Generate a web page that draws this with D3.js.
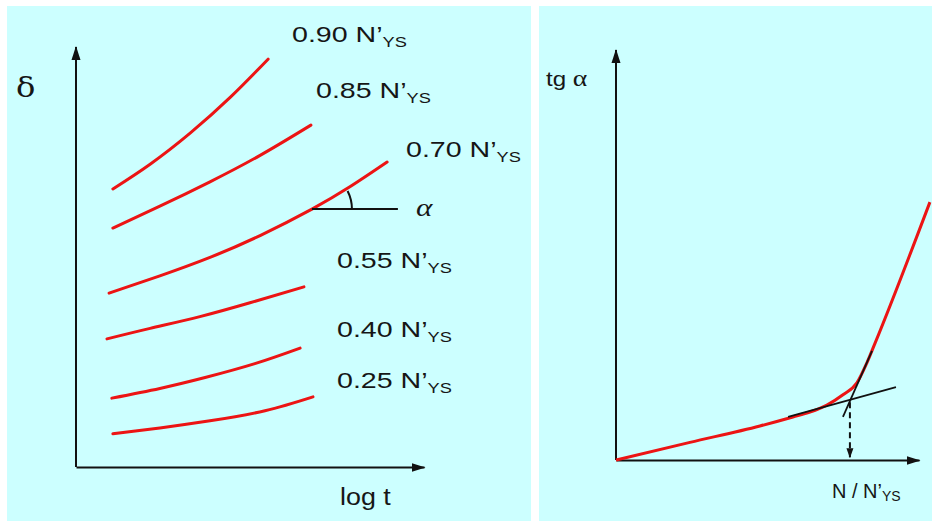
<!DOCTYPE html>
<html>
<head>
<meta charset="utf-8">
<script src="https://cdn.jsdelivr.net/npm/d3@7"></script>
<style>
  body { margin: 0; background: #fff; }
  svg { display: block; }
  .lbl { font-family: "Liberation Sans", Arial, sans-serif; fill: #161616; }
  .greek { font-family: "Liberation Serif", "DejaVu Serif", serif; fill: #161616; }
  .delta { font-family: "DejaVu Serif", serif; fill: #161616; }
</style>
</head>
<body>
<div class="chart"></div>
<script>
// creep curves delta vs log t, one per load level (0-10 units)
const levels = ['0.90', '0.85', '0.70', '0.55', '0.40', '0.25']
const creepT = [
  [1.06, 2.13, 3.28, 4.43, 5.52],
  [1.06, 2.41, 3.85, 5.29, 6.75],
  [0.95, 2.41, 3.85, 5.29, 6.78, 7.87, 8.94],
  [0.89, 2.13, 3.56, 5.00, 6.55],
  [1.03, 2.41, 3.71, 5.14, 6.44],
  [1.06, 2.41, 3.85, 5.43, 6.81]
]
const creepDelta = [
  [6.62, 7.21, 7.95, 8.80, 9.71],
  [5.69, 6.21, 6.79, 7.42, 8.14],
  [4.14, 4.55, 4.99, 5.51, 6.14, 6.67, 7.26],
  [3.05, 3.30, 3.58, 3.91, 4.29],
  [1.64, 1.87, 2.13, 2.46, 2.83],
  [0.79, 0.93, 1.10, 1.34, 1.67]
]
// where the slope alpha is taken (on the 0.70 curve)
const alphaCurve = 2
const alphaPoint = 4
const alphaLineEnd = 9.25
const alphaDeg = 27

// tg alpha vs N / N'ys
const ratioN = [0, 2.44, 4.75, 5.84, 6.40, 6.96, 7.49, 7.95, 8.28, 8.55, 10.36]
const tgAlpha = [0, 0.43, 0.83, 1.05, 1.17, 1.34, 1.59, 1.88, 2.37, 2.85, 6.29]
const tangentLow = [[5.68, 1.05], [9.24, 1.78]]
const tangentHigh = [[7.49, 1.05], [8.45, 2.66]]
const yieldRatio = 7.72
const dropFrom = 1.41
const dropTo = 0.07

const width = 932
const height = 524

const svg = d3.select('.chart')
  .append('svg')
  .attr('width', width)
  .attr('height', height)

const defs = svg.append('defs')
defs.append('marker')
  .attr('id', 'arrow')
  .attr('markerUnits', 'userSpaceOnUse')
  .attr('markerWidth', 14)
  .attr('markerHeight', 10)
  .attr('refX', 13)
  .attr('refY', 5)
  .attr('orient', 'auto')
  .append('path')
  .attr('d', 'M0,0.5L14,5L0,9.5Z')
  .attr('fill', '#111')
defs.append('marker')
  .attr('id', 'arrowSmall')
  .attr('markerUnits', 'userSpaceOnUse')
  .attr('markerWidth', 10)
  .attr('markerHeight', 8)
  .attr('refX', 9)
  .attr('refY', 4)
  .attr('orient', 'auto')
  .append('path')
  .attr('d', 'M0,0.5L10,4L0,7.5Z')
  .attr('fill', '#111')

// panels
svg.append('rect').attr('x', 7).attr('y', 6).attr('width', 524).attr('height', 515).attr('fill', '#ccffff')
svg.append('rect').attr('x', 539).attr('y', 6).attr('width', 393).attr('height', 515).attr('fill', '#ccffff')

// text helper: the picture is stretched a bit horizontally
function label(x, y, parts, stretch) {
  const g = svg.append('g')
    .attr('transform', `translate(${x}, ${y}) scale(${stretch || 1.3}, 1)`)
  const t = g.append('text')
  parts.forEach(p => {
    t.append('tspan')
      .attr('class', p.cls || 'lbl')
      .attr('font-size', p.size)
      .attr('font-style', p.style || null)
      .attr('dy', p.dy || 0)
      .text(p.text)
  })
  return t
}

function makeCreepChart() {
  const x = d3.scaleLinear().domain([0, 10]).range([76, 424])
  const y = d3.scaleLinear().domain([0, 10]).range([467, 47])

  svg.append('g')
    .attr('transform', `translate(0, ${y(0)})`)
    .call(d3.axisBottom(x).tickValues([]).tickSizeOuter(0))
    .select('.domain')
    .attr('stroke', '#111')
    .attr('stroke-width', 2)
    .attr('marker-end', 'url(#arrow)')

  svg.append('g')
    .attr('transform', `translate(${x(0)}, 0)`)
    .call(d3.axisLeft(y).tickValues([]).tickSizeOuter(0))
    .select('.domain')
    .attr('stroke', '#111')
    .attr('stroke-width', 2)
    .attr('d', `M0,${y(0)}V${y(10)}`)
    .attr('marker-end', 'url(#arrow)')

  const line = d3.line()
    .x(d => x(d[0]))
    .y(d => y(d[1]))
    .curve(d3.curveNatural)

  const series = levels.map((lv, i) => creepT[i].map((t, j) => [t, creepDelta[i][j]]))

  svg.append('g')
    .selectAll('path')
    .data(series)
    .join('path')
    .attr('d', line)
    .attr('fill', 'none')
    .attr('stroke', '#ec1414')
    .attr('stroke-width', 3)
    .attr('stroke-linecap', 'round')

  // slope alpha at the 0.70 curve
  const px = x(creepT[alphaCurve][alphaPoint])
  const py = y(creepDelta[alphaCurve][alphaPoint])
  svg.append('line')
    .attr('x1', px).attr('y1', py)
    .attr('x2', x(alphaLineEnd)).attr('y2', py)
    .attr('stroke', '#111')
    .attr('stroke-width', 2)
  const r = 40
  const a = alphaDeg * Math.PI / 180
  const p = d3.path()
  p.moveTo(px + r, py)
  p.arc(px, py, r, 0, -a, true)
  svg.append('path')
    .attr('d', p.toString())
    .attr('fill', 'none')
    .attr('stroke', '#111')
    .attr('stroke-width', 2)

  // labels
  const labelPos = [[292, 42], [316, 98], [406, 157], [337, 268], [337, 337], [337, 388]]
  levels.forEach((lv, i) => {
    label(labelPos[i][0], labelPos[i][1], [
      { text: `${lv} N’`, size: 22 },
      { text: 'YS', size: 14, dy: 5 }
    ])
  })
  label(416, 216, [{ text: 'α', size: 26, cls: 'greek', style: 'italic' }], 1.2)
  label(16, 97, [{ text: 'δ', size: 28, cls: 'delta' }], 1.15)
  label(340, 505, [{ text: 'log t', size: 24 }], 1.12)
}

function makeSlopeChart() {
  const x = d3.scaleLinear().domain([0, 10]).range([616, 919])
  const y = d3.scaleLinear().domain([0, 10]).range([460, 50])

  svg.append('g')
    .attr('transform', `translate(0, ${y(0)})`)
    .call(d3.axisBottom(x).tickValues([]).tickSizeOuter(0))
    .select('.domain')
    .attr('stroke', '#111')
    .attr('stroke-width', 2)
    .attr('marker-end', 'url(#arrow)')

  svg.append('g')
    .attr('transform', `translate(${x(0)}, 0)`)
    .call(d3.axisLeft(y).tickValues([]).tickSizeOuter(0))
    .select('.domain')
    .attr('stroke', '#111')
    .attr('stroke-width', 2)
    .attr('d', `M0,${y(0)}V${y(10)}`)
    .attr('marker-end', 'url(#arrow)')

  const line = d3.line()
    .x(d => x(d[0]))
    .y(d => y(d[1]))
    .curve(d3.curveMonotoneX)

  svg.append('path')
    .datum(ratioN.map((n, i) => [n, tgAlpha[i]]))
    .attr('d', line)
    .attr('fill', 'none')
    .attr('stroke', '#ec1414')
    .attr('stroke-width', 3)

  svg.append('g')
    .selectAll('line')
    .data([tangentLow, tangentHigh])
    .join('line')
    .attr('x1', d => x(d[0][0]))
    .attr('y1', d => y(d[0][1]))
    .attr('x2', d => x(d[1][0]))
    .attr('y2', d => y(d[1][1]))
    .attr('stroke', '#111')
    .attr('stroke-width', 1.8)

  svg.append('line')
    .attr('x1', x(yieldRatio)).attr('y1', y(dropFrom))
    .attr('x2', x(yieldRatio)).attr('y2', y(dropTo))
    .attr('stroke', '#111')
    .attr('stroke-width', 2)
    .attr('stroke-dasharray', '6,4')
    .attr('marker-end', 'url(#arrowSmall)')

  label(546, 86, [
    { text: 'tg ', size: 21 },
    { text: 'α', size: 24, cls: 'greek' }
  ], 1.15)
  label(832, 498, [
    { text: 'N / N’', size: 20 },
    { text: 'YS', size: 14, dy: 3 }
  ], 1.0)
}

makeCreepChart()
makeSlopeChart()
</script>
</body>
</html>
